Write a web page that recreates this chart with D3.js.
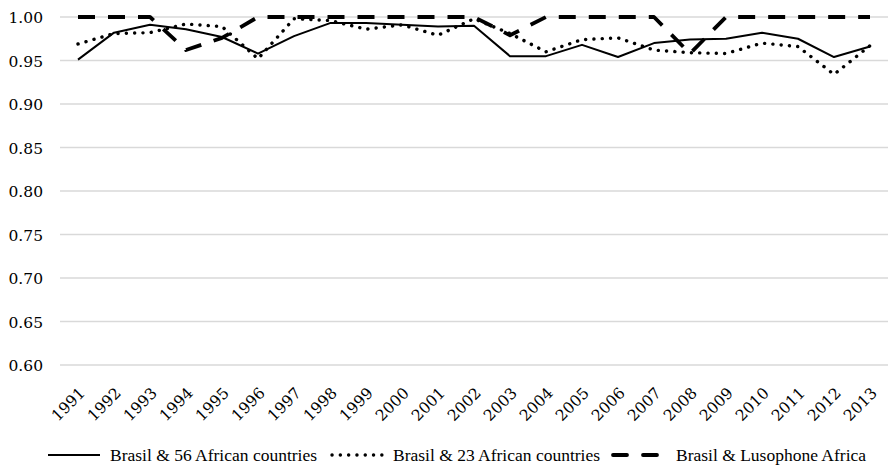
<!DOCTYPE html>
<html><head><meta charset="utf-8">
<script src="https://cdn.jsdelivr.net/npm/d3@7"></script>
<style>body{margin:0;background:#fff}svg{display:block}text{fill:#000}</style>
</head><body><svg id="c" width="890" height="467"></svg>
<script>
const years = ["1991","1992","1993","1994","1995","1996","1997","1998","1999","2000","2001","2002","2003","2004","2005","2006","2007","2008","2009","2010","2011","2012","2013"];
const s56 = [0.951,0.982,0.991,0.986,0.977,0.958,0.978,0.993,0.993,0.991,0.989,0.990,0.955,0.955,0.968,0.954,0.970,0.974,0.975,0.982,0.975,0.954,0.966];
const s23 = [0.969,0.981,0.982,0.992,0.989,0.952,0.998,0.996,0.986,0.991,0.979,0.998,0.981,0.960,0.974,0.976,0.962,0.959,0.958,0.970,0.966,0.934,0.967];
const sLus = [1,1,1,0.962,0.976,1,1,1,1,1,1,1,0.979,1,1,1,1,0.958,1,1,1,1,1];
const yTicks = [0.60,0.65,0.70,0.75,0.80,0.85,0.90,0.95,1.00];
const seriesNames = ["Brasil & 56 African countries","Brasil & 23 African countries","Brasil & Lusophone Africa"];

const svg = d3.select("#c");
const x = d3.scaleBand().domain(years).range([60,888]);
const y = d3.scaleLinear().domain([0.6,1.0]).range([365,17]);

const grid = svg.append("g");
grid.selectAll("line").data(yTicks).join("line")
  .attr("x1",60).attr("x2",888).attr("y1",d=>y(d)).attr("y2",d=>y(d))
  .attr("stroke","#d9d9d9").attr("stroke-width",1.3);

const yAxis = d3.axisLeft(y).tickValues(yTicks).tickFormat(d3.format(".2f")).tickSize(0).tickPadding(0);
const ga = svg.append("g").attr("transform","translate(43,0)").call(yAxis)
  .attr("font-family","DejaVu Serif").attr("font-size",15.5);
ga.select(".domain").remove();
ga.selectAll("text").attr("dy","0.36em");

const xAxis = d3.axisBottom(x).tickSize(0).tickPadding(0);
const gx = svg.append("g").attr("transform","translate(0,365)").call(xAxis)
  .attr("font-family","DejaVu Serif").attr("font-size",15.5);
gx.select(".domain").remove();
gx.selectAll("text")
  .attr("text-anchor","end").attr("dy",0).attr("y",0)
  .attr("transform","translate(8,29) rotate(-45)");

const line = d3.line().x((d,i)=>x(years[i])+x.bandwidth()/2).y(d=>y(d));
const styles = [
  {w:2, dash:null, cap:"butt"},
  {w:3.4, dash:"0.1,8.2", cap:"round"},
  {w:3.8, dash:"17,13", cap:"butt"}
];
[s56,s23,sLus].forEach((s,k)=>{
  const p = svg.append("path").datum(s).attr("d",line).attr("fill","none")
    .attr("stroke","#000").attr("stroke-width",styles[k].w).attr("stroke-linecap",styles[k].cap).attr("stroke-linejoin","round");
  if(styles[k].dash) p.attr("stroke-dasharray",styles[k].dash);
});

// legend
const leg = [{x1:48,x2:100,tx:110},{x1:332,x2:388,tx:393},{x1:613,x2:658,tx:676}];
leg.forEach((l,k)=>{
  const g = svg.append("g");
  const ln = g.append("line").attr("x1",l.x1).attr("x2",l.x2).attr("y1",455).attr("y2",455)
    .attr("stroke","#000").attr("stroke-width",styles[k].w).attr("stroke-linecap",k==2?"round":styles[k].cap);
  if(k==2) ln.attr("stroke-dasharray","14,16");
  else if(styles[k].dash) ln.attr("stroke-dasharray",styles[k].dash);
  g.append("text").attr("x",l.tx).attr("y",455).attr("dy","0.35em")
    .attr("font-size",17.5).attr("font-family","Liberation Serif").text(seriesNames[k]);
});
</script></body></html>
